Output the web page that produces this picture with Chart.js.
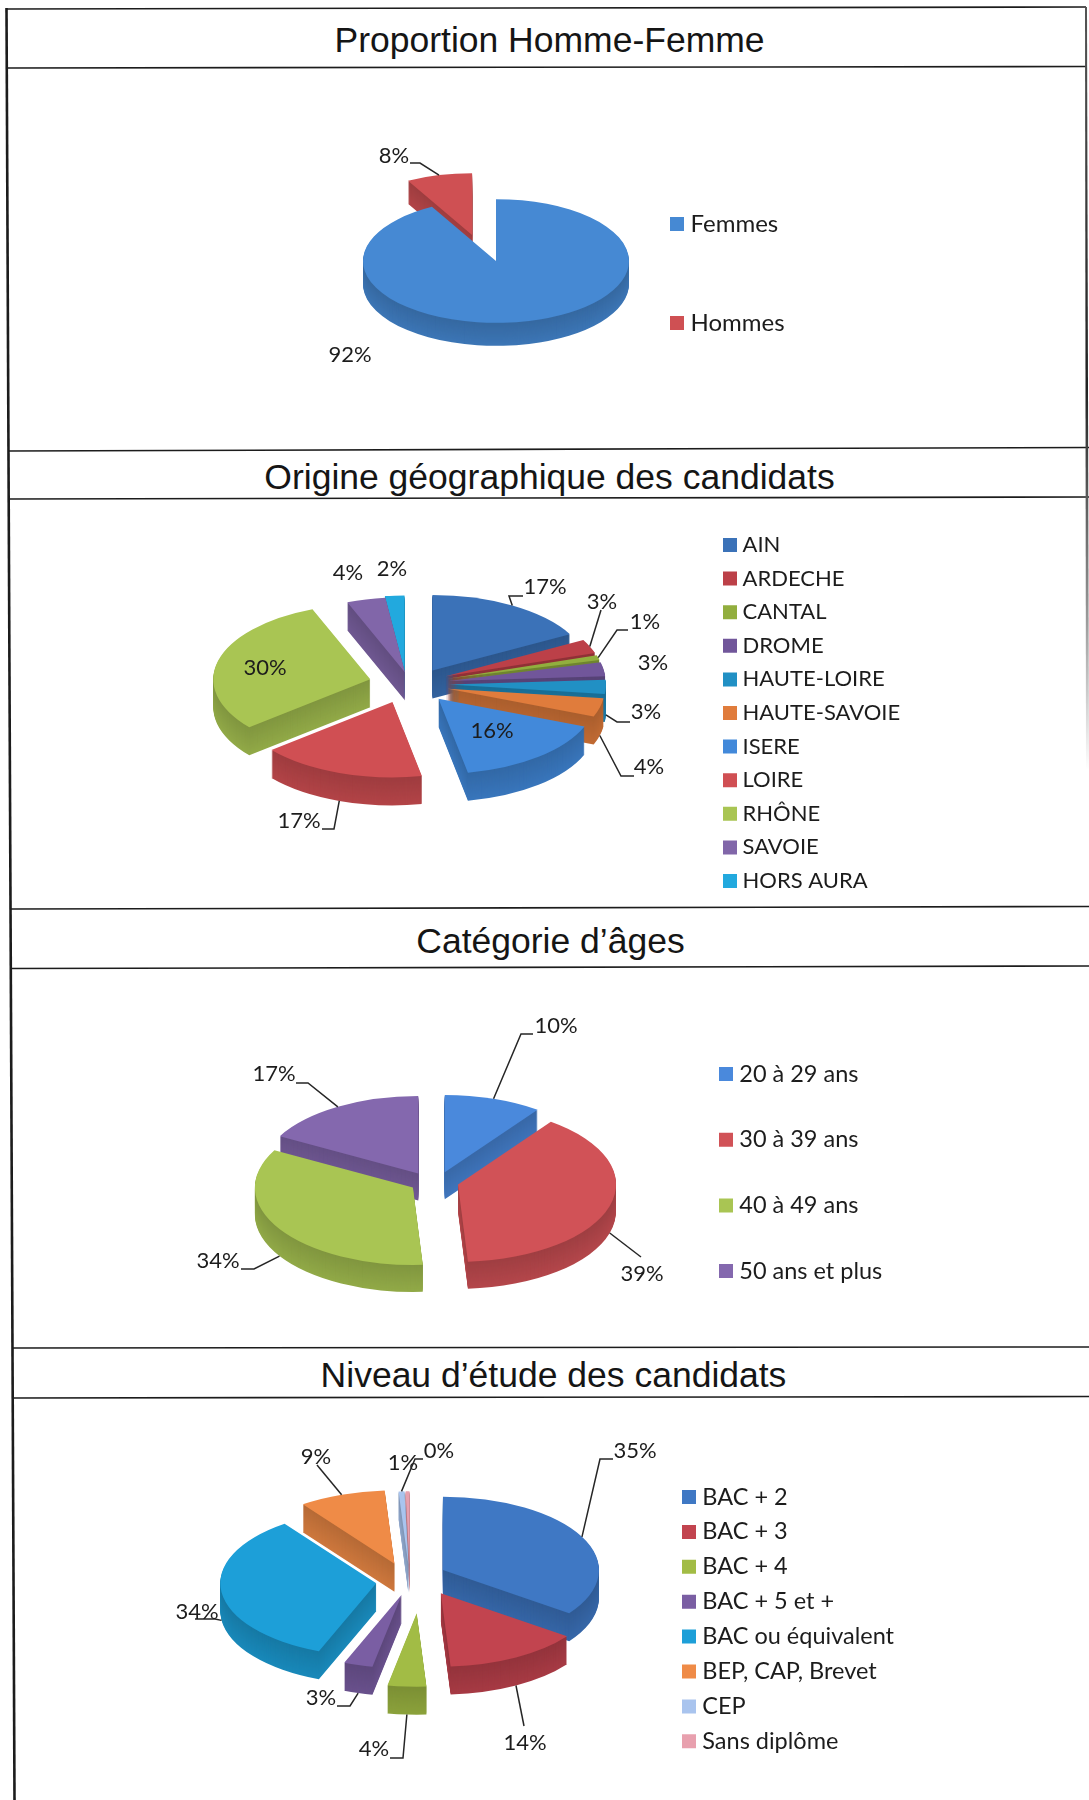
<!DOCTYPE html>
<html lang="fr"><head><meta charset="utf-8"><title>Statistiques candidats</title>
<script src="https://cdn.jsdelivr.net/npm/chart.js@4"></script>
<style>
html,body{margin:0;padding:0;background:#fff}
#page{position:relative;width:1089px;height:1800px;overflow:hidden;background:#fff}
canvas{position:absolute;left:0}
svg{position:absolute;left:0;top:0}
.t{position:absolute;left:0;width:1089px;text-align:center;font-family:"Liberation Sans",Arial,sans-serif;color:#151515;font-size:35.5px;line-height:40px;white-space:nowrap}
</style></head><body>
<div id="page">
<svg width="1089" height="1800">
<defs><linearGradient id="fade" x1="0" y1="0" x2="0" y2="1"><stop offset="0" stop-color="#555"/><stop offset=".5" stop-color="#222"/><stop offset=".8" stop-color="#999"/><stop offset="1" stop-color="#fff"/></linearGradient></defs>
<g stroke="#1c1c1c" stroke-width="1.6" fill="none">
<line x1="7" y1="9" x2="1086" y2="7"/><line x1="7" y1="68" x2="1086" y2="66.5"/>
<line x1="8" y1="451" x2="1089" y2="447.5"/><line x1="8" y1="499" x2="1089" y2="497"/>
<line x1="10" y1="909" x2="1089" y2="906.5"/><line x1="10" y1="968.5" x2="1089" y2="966"/>
<line x1="12" y1="1348" x2="1089" y2="1347"/><line x1="12" y1="1398" x2="1089" y2="1396.5"/>
<line x1="6.5" y1="8" x2="14.5" y2="1800" stroke-width="2.6"/>
</g>
<polygon points="1085,7 1087,7 1089,770 1086,770" fill="url(#fade)"/>
</svg>
<div class="t" style="top:20px;left:5px">Proportion Homme-Femme</div>
<div class="t" style="top:457px;left:5px">Origine géographique des candidats</div>
<div class="t" style="top:921px;left:6px">Catégorie d’âges</div>
<div class="t" style="top:1355px;left:9px">Niveau d’étude des candidats</div>
<canvas id="c1"></canvas><canvas id="c2"></canvas><canvas id="c3"></canvas><canvas id="c4"></canvas>
</div>
<script>
// ---- data ----
const sexeCategories = ['Femmes','Hommes'];
const sexeValues = [92,8];
const origineCategories = ['AIN','ARDECHE','CANTAL','DROME','HAUTE-LOIRE','HAUTE-SAVOIE','ISERE','LOIRE','RHÔNE','SAVOIE','HORS AURA'];
const origineValues = [17,3,1,3,3,4,16,17,30,4,2];
const ageCategories = ['20 à 29 ans','30 à 39 ans','40 à 49 ans','50 ans et plus'];
const ageValues = [10,39,34,17];
const etudeCategories = ['BAC + 2','BAC + 3','BAC + 4','BAC + 5 et +','BAC ou équivalent','BEP, CAP, Brevet','CEP','Sans diplôme'];
const etudeValues = [35,14,4,3,34,9,0.6,0.4];

// ---- colours ----
const sexeColors = ['#4689D3','#CF5053'];
const origineColors = ['#3B72B8','#BC4048','#92AE3E','#71569A','#2190C4','#E07C3C','#4289DA','#D04F53','#A9C553','#8166A9','#22A9DE'];
const ageColors = ['#4A89DC','#D15257','#A9C553','#8468AE'];
const etudeColors = ['#3F78C4','#C2444F','#A2BC45','#7A5EA3','#1D9FD8','#EF8B47','#A9C4EE','#E8A0AE'];

// ---- layout (page pixels) ----
const canvasHalf = 380;
const layouts = [
 {id:'c1',cats:sexeCategories,vals:sexeValues,cols:sexeColors,cx:496,cy:261,r:133,k:.465,depth:23,offset:[0,240],nudge:{1:[-9,1]},
  legend:{x:670,y:224,step:99,font:24},
  labels:[{at:[350,355]},{at:[394,156],line:[[410,163],[420,163]],to:1}]},
 {id:'c2',cats:origineCategories,vals:origineValues,cols:origineColors,cx:409,cy:684,r:157,k:.48,depth:28,offset:160,
  nudge:{0:[3,3],6:[4,0],7:[-3,0],9:[6,7],10:[-2,6]},
  legend:{x:723,y:545,step:33.6,font:22},
  labels:[
   {at:[545,587],line:[[523,596],[509,596]],to:0},
   {at:[602,602],line:[[601,610]],to:1},
   {at:[645,622],line:[[628,630],[617,630]],to:2},
   {at:[653,663]},
   {at:[646,712],line:[[630,722],[617,722]],to:4,dz:1},
   {at:[649,767],line:[[634,776],[621,776]],to:5,dz:1},
   {at:[492,731]},
   {at:[299,821],line:[[322,829],[334,829]],to:7,dz:1},
   {at:[265,668]},
   {at:[348,573]},
   {at:[392,569]}]},
 {id:'c3',cats:ageCategories,vals:ageValues,cols:ageColors,cx:434,cy:1179,r:158,k:.49,depth:27,offset:100,
  nudge:{0:[3,5],1:[0,2],2:[0,2],3:[-3,5]},
  legend:{x:719,y:1074,step:65.7,font:23.5},
  labels:[
   {at:[556,1026],line:[[533,1034],[521,1034]],to:0},
   {at:[642,1274],line:[[641,1257]],to:1,dz:1},
   {at:[218,1261],line:[[241,1269],[254,1269]],to:2,dz:1},
   {at:[274,1074],line:[[296,1083],[308,1083]],to:3}]},
 {id:'c4',cats:etudeCategories,vals:etudeValues,cols:etudeColors,cx:410,cy:1578,r:156,k:.47,depth:28,offset:148,
  nudge:{1:[13,0],2:[9,18],3:[2,0],4:[3,3],5:[-3,2],6:[0,4],7:[0,4]},
  legend:{x:682,y:1497,step:34.9,font:23.5},
  labels:[
   {at:[635,1451],line:[[613,1459],[600,1459]],to:0},
   {at:[525,1743],line:[[524,1726]],to:1,dz:1},
   {at:[374,1749],line:[[390,1758],[403,1758]],to:2,dz:1},
   {at:[321,1698],line:[[337,1706],[350,1706]],to:3,dz:1},
   {at:[197,1612],line:[[195,1619],[215,1619]],to:4,dz:1},
   {at:[316,1457],line:[[317,1465]],to:5},
   {at:[403,1463]},
   {at:[439,1451],line:[[423,1459],[415,1459]],to:6}]}
];
const labelFont = 22;

function shade(hex,f){
  const n=parseInt(hex.slice(1),16);
  return 'rgb('+[(n>>16)&255,(n>>8)&255,n&255].map(v=>Math.round(v*f)).join(',')+')';
}

// Tilted, extruded drawing of the library's own arc elements
const tiltPie = {
  id:'tiltPie',
  afterLayout(chart,args,o){
    const L=o.cfg.legend, lg=chart.legend, p=lg.options.labels.padding;
    lg.left=L.x+5.5-p; lg.right=lg.left+400;
    lg.top=L.y-o.oy-L.font*.5-p; lg.bottom=lg.top+canvasHalf*2;
  },
  beforeDatasetsDraw(chart,args,o){
    const c=o.cfg, ctx=chart.ctx, arcs=chart.getDatasetMeta(0).data;
    const order=arcs.map((a,i)=>i).sort((a,b)=>{
      const m=i=>Math.sin((arcs[i].startAngle+arcs[i].endAngle)/2);
      return m(a)-m(b);
    });
    const tilt=(a,i,dz)=>{
      const off=(a.options.offset||0)/4, th=(a.startAngle+a.endAngle)/2, n=c.nudge[i]||[0,0];
      ctx.translate(a.x+n[0]+Math.cos(th)*off, a.y+n[1]+dz+Math.sin(th)*off*c.k);
      ctx.scale(1,c.k);
      ctx.translate(-a.x,-a.y);
    };
    for(const i of order){
      const a=arcs[i], base=a.options;
      for(let d=c.depth;d>=0;d--){
        const colour=d?shade(c.cols[i],.76+.1*d/c.depth):c.cols[i];
        ctx.save(); tilt(a,i,d);
        a.options=Object.assign({},base,{backgroundColor:colour,borderWidth:0,offset:0,spacing:0});
        a.draw(ctx);
        a.options=base;
        ctx.restore();
      }
    }
    return false;
  },
  afterDraw(chart,args,o){
    const c=o.cfg, ctx=chart.ctx, arcs=chart.getDatasetMeta(0).data, tot=c.vals.reduce((s,v)=>s+v,0);
    ctx.save();
    ctx.strokeStyle='#262626'; ctx.lineWidth=1.5;
    ctx.fillStyle='#1c1c1c'; ctx.font=labelFont+'px Lato'; ctx.textAlign='center'; ctx.textBaseline='middle';
    c.labels.forEach((l,i)=>{
      if(l.line){
        const a=arcs[l.to], th=(a.startAngle+a.endAngle)/2, off=(a.options.offset||0)/4, R=a.outerRadius+off, n=c.nudge[l.to]||[0,0];
        const ex=a.x+n[0]+Math.cos(th)*R, ey=a.y+n[1]+Math.sin(th)*R*c.k+(l.dz?c.depth:0);
        ctx.beginPath();
        l.line.forEach((p,j)=>{ctx[j?'lineTo':'moveTo'](p[0],p[1]-o.oy)});
        ctx.lineTo(ex,ey); ctx.stroke();
      }
      ctx.fillText(Math.round(c.vals[i]/tot*100)+'%',l.at[0],l.at[1]-o.oy);
    });
    ctx.restore();
  }
};

layouts.forEach(c=>{
  const cv=document.getElementById(c.id), W=1089, H=canvasHalf*2, oy=c.cy-canvasHalf;
  cv.width=W; cv.height=H; cv.style.width=W+'px'; cv.style.height=H+'px'; cv.style.top=oy+'px';
  new Chart(cv,{
    type:'pie',
    data:{labels:c.cats,datasets:[{data:c.vals,backgroundColor:c.cols,borderWidth:0,offset:c.offset,radius:c.r,clip:false}]},
    plugins:[tiltPie],
    options:{
      responsive:false,animation:false,events:[],
      layout:{padding:{left:0,right:W-2*c.cx,top:0,bottom:0}},
      plugins:{
        tooltip:{enabled:false},
        tiltPie:{cfg:c,oy},
        legend:{position:'chartArea',align:'start',labels:{
          usePointStyle:true,pointStyle:'rect',boxWidth:3,boxHeight:14,
          padding:c.legend.step-c.legend.font,color:'#1c1c1c',
          font:{family:'Lato',size:c.legend.font}
        }}
      }
    }
  });
});
</script>
</body></html>
